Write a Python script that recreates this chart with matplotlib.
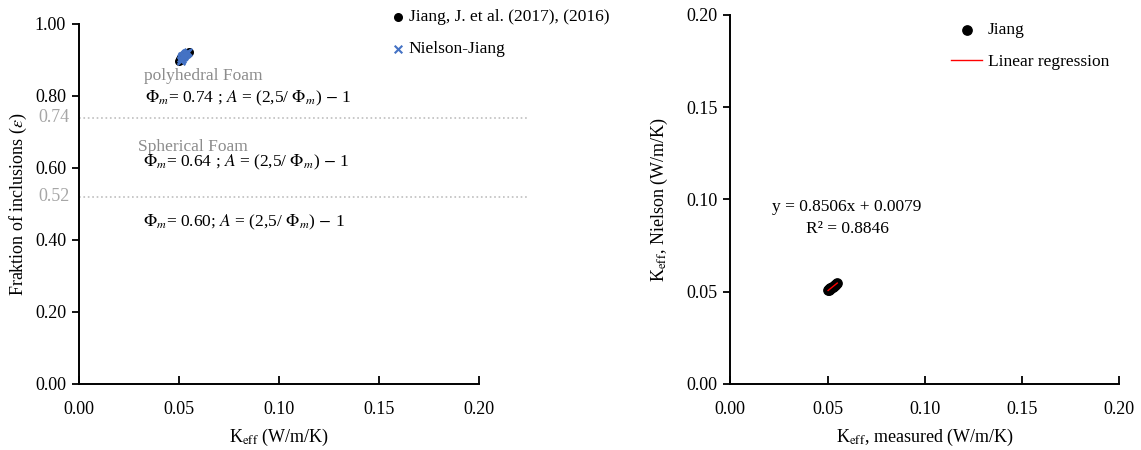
import matplotlib.pyplot as plt
import numpy as np

plt.rcParams['font.family'] = ['Liberation Serif', 'DejaVu Serif']
plt.rcParams['mathtext.fontset'] = 'stix'

# measured Keff (W/m/K) and fraction of inclusions, Jiang et al.
keff_measured = [0.0503, 0.0506, 0.0509, 0.0512, 0.0515, 0.0519, 0.0523,
                 0.0527, 0.0531, 0.0536, 0.0541, 0.0546, 0.0550]
epsilon = [0.897, 0.900, 0.903, 0.905, 0.908, 0.910, 0.912,
           0.914, 0.916, 0.917, 0.919, 0.920, 0.921]
# Nielson-Jiang model prediction
keff_nielson = [0.0512, 0.0510, 0.0516, 0.0514, 0.0521, 0.0519, 0.0525,
                0.0527, 0.0531, 0.0535, 0.0538, 0.0544, 0.0547]
fit_slope = 0.8506
fit_intercept = 0.0079
fit_r2 = 0.8846

limits_phi = [0.74, 0.52]

fig = plt.figure(figsize=(11.41, 4.5), dpi=100)
ax1 = fig.add_axes([0.0689, 0.1467, 0.3506, 0.80])
ax2 = fig.add_axes([0.640, 0.1467, 0.341, 0.82])

for ax in (ax1, ax2):
    ax.spines['top'].set_visible(False)
    ax.spines['right'].set_visible(False)
    ax.spines['left'].set_linewidth(1.4)
    ax.spines['bottom'].set_linewidth(1.4)
    ax.tick_params(axis='y', direction='out', length=5, width=1.3, labelsize=13, pad=4)
    ax.tick_params(axis='x', direction='in', length=6, width=1.3, labelsize=13, pad=12)
    ax.set_xlim(0, 0.2)
    ax.set_xticks([0, 0.05, 0.10, 0.15, 0.20])
    ax.set_xticklabels(['%.2f' % v for v in [0, 0.05, 0.10, 0.15, 0.20]])

# left panel
ax1.set_ylim(0, 1.0)
ax1.set_yticks([0, 0.2, 0.4, 0.6, 0.8, 1.0])
ax1.set_yticklabels(['%.2f' % v for v in [0, 0.2, 0.4, 0.6, 0.8, 1.0]])
for p in limits_phi:
    ax1.plot([0, 0.224], [p, p], color='#bfbfbf', linestyle=':', linewidth=1.2, clip_on=False)
    ax1.text(-0.0045, p, '%.2f' % p, color='#a6a6a6', fontsize=13, ha='right', va='center')

ax1.scatter(keff_measured, epsilon, s=30, color='black', label='Jiang, J. et al. (2017), (2016)', zorder=3)
ax1.scatter(keff_nielson, epsilon, s=30, marker='x', color='#4472c4', linewidths=1.5,
            label='Nielson-Jiang', zorder=4)

ax1.text(0.0325, 0.855, 'polyhedral Foam', color='#8c8c8c', fontsize=12.5, va='center')
ax1.text(0.033, 0.792, r'$\Phi_m$= 0.74 ; $A$ = (2,5/ $\Phi_m$) $-$ 1', fontsize=12.5, va='center')
ax1.text(0.0295, 0.658, 'Spherical Foam', color='#8c8c8c', fontsize=12.5, va='center')
ax1.text(0.032, 0.615, r'$\Phi_m$= 0.64 ; $A$ = (2,5/ $\Phi_m$) $-$ 1', fontsize=12.5, va='center')
ax1.text(0.032, 0.448, r'$\Phi_m$= 0.60; $A$ = (2,5/ $\Phi_m$) $-$ 1', fontsize=12.5, va='center')

ax1.set_xlabel(r'K$_{\rm eff}$ (W/m/K)', fontsize=13, labelpad=7)
ax1.set_ylabel(r'Fraktion of inclusions ($\varepsilon$)', fontsize=13, labelpad=4)
ax1.legend(loc='upper left', bbox_to_anchor=(0.76, 1.06), frameon=False, fontsize=12.5,
           handletextpad=0.1, labelspacing=0.9, handlelength=1.0, borderaxespad=0)

# right panel
ax2.set_ylim(0, 0.2)
ax2.set_yticks([0, 0.05, 0.10, 0.15, 0.20])
ax2.set_yticklabels(['%.2f' % v for v in [0, 0.05, 0.10, 0.15, 0.20]])
ax2.scatter(keff_measured, keff_nielson, s=45, color='black', label='Jiang', zorder=3)
xf = np.array([min(keff_measured), max(keff_measured)])
ax2.plot(xf, fit_slope * xf + fit_intercept, color='red', linewidth=1, label='Linear regression', zorder=4)
ax2.text(0.06, 0.0959, 'y = %.4fx + %.4f' % (fit_slope, fit_intercept), fontsize=12.5, ha='center', va='center')
ax2.text(0.06, 0.084, 'R² = %.4f' % fit_r2, fontsize=12.5, ha='center', va='center')
ax2.set_xlabel(r'K$_{\rm eff}$, measured (W/m/K)', fontsize=13, labelpad=7)
ax2.set_ylabel(r'K$_{\rm eff}$, Nielson (W/m/K)', fontsize=13, labelpad=12)
ax2.legend(loc='upper left', bbox_to_anchor=(0.55, 1.0), frameon=False, fontsize=12.5,
           handletextpad=0.3, labelspacing=0.9, handlelength=1.8, borderaxespad=0)

fig.savefig('out.png', dpi=100)
